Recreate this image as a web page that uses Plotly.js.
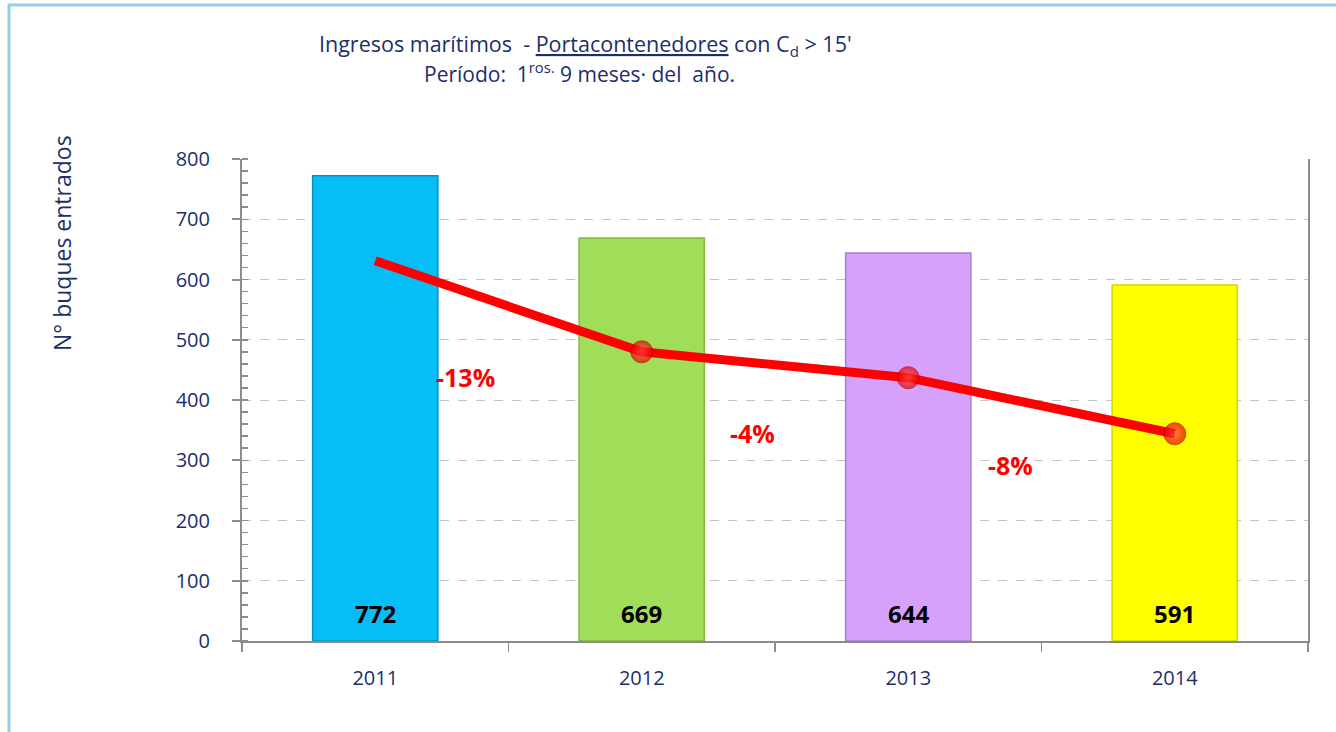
<!DOCTYPE html>
<html>
<head>
<meta charset="utf-8">
<script src="https://cdn.plot.ly/plotly-3.0.1.min.js"></script>
<style>html,body{margin:0;padding:0;background:#fff;}#chart{width:1336px;height:732px;}</style>
</head>
<body>
<div id="chart"></div>
<script>
const years = ['2011', '2012', '2013', '2014'];
const barValues = [772, 669, 644, 591];
const lineValues = [631, 480, 437, 344];
const barColors = ['#06bdf6', '#a0dd58', '#d5a1fa', '#ffff00'];
const barEdgeColors = ['#0a8fbf', '#7fb83c', '#a67fcf', '#d4d400'];

const NAVY = '#1b2f6b';
const FONT = 'Open Sans, Lato, sans-serif';

// plot area in pixels: left 242, right 1308, top 159, bottom 641
const PX = p => (p - 242) / 1066;
const PY = p => (641 - p) / 482;

const pct = barValues.slice(1).map((v, i) => Math.round((v - barValues[i]) / barValues[i] * 100) + '%');
const pctPos = [[0.337, 438], [1.414, 345], [2.382, 292]];

const traces = [
  {
    type: 'bar',
    x: years,
    y: barValues,
    marker: { color: barColors, line: { color: barEdgeColors, width: 1.5 } },
    hoverinfo: 'skip',
    showlegend: false
  },
  {
    type: 'scatter',
    mode: 'lines+markers',
    x: years,
    y: lineValues,
    line: { color: '#ff0000', width: 9 },
    marker: {
      size: [0, 22, 22, 22],
      color: '#e60000',
      gradient: { type: 'radial', color: '#ff4a4a' },
      line: { color: '#b80000', width: 1 }
    },
    hoverinfo: 'skip',
    showlegend: false
  }
];

const annotations = [];
barValues.forEach((v, i) => {
  annotations.push({
    x: i, y: 46, xref: 'x', yref: 'y', text: '<b>' + v + '</b>', showarrow: false,
    xanchor: 'center', yanchor: 'middle',
    font: { family: FONT, size: 24, color: '#000' }
  });
});
pct.forEach((t, i) => {
  annotations.push({
    x: pctPos[i][0], y: pctPos[i][1], xref: 'x', yref: 'y', text: '<b>' + t + '</b>', showarrow: false,
    xanchor: 'center', yanchor: 'middle',
    font: { family: FONT, size: 25, color: '#ff0000' }
  });
});
annotations.push({
  x: PX(585), y: PY(45), xref: 'paper', yref: 'paper', showarrow: false,
  xanchor: 'center', yanchor: 'middle',
  text: 'Ingresos marítimos\u00a0 - <u>Portacontenedores</u> con C<sub>d</sub> &gt; 15\'',
  font: { family: FONT, size: 21.5, color: NAVY }
});
annotations.push({
  x: PX(579), y: PY(73), xref: 'paper', yref: 'paper', showarrow: false,
  xanchor: 'center', yanchor: 'middle',
  text: 'Período:\u00a0 1<sup>ros.</sup> 9 meses· del\u00a0 año.',
  font: { family: FONT, size: 21, color: NAVY }
});
annotations.push({
  x: PX(62), y: PY(243), xref: 'paper', yref: 'paper', showarrow: false, textangle: -90,
  xanchor: 'center', yanchor: 'middle',
  text: 'N° buques entrados',
  font: { family: FONT, size: 23, color: NAVY }
});

const layout = {
  width: 1336, height: 732,
  margin: { l: 242, r: 28, t: 159, b: 91 },
  paper_bgcolor: '#ffffff', plot_bgcolor: '#ffffff',
  font: { family: FONT, color: NAVY },
  bargap: 0.53,
  showlegend: false,
  xaxis: {
    type: 'category',
    range: [-0.5, 3.5], autorange: false,
    showline: true, linecolor: '#8c8c8c', linewidth: 2,
    ticks: 'outside', tickson: 'boundaries', ticklen: 9, tickcolor: '#8c8c8c', tickwidth: 1.5,
    showgrid: false, zeroline: false,
    tickfont: { family: FONT, size: 20, color: NAVY },
    ticklabelstandoff: 18
  },
  yaxis: {
    range: [0, 800], autorange: false, dtick: 100,
    showline: true, linecolor: '#8c8c8c', linewidth: 2, mirror: true,
    ticks: 'outside', ticklen: 8, tickcolor: '#8c8c8c', tickwidth: 2,
    minor: { dtick: 20, ticks: 'inside', ticklen: 6, tickcolor: '#8c8c8c', tickwidth: 1.5, showgrid: false },
    showgrid: true, gridcolor: '#c4c4c4', griddash: 'dash', gridwidth: 1,
    zeroline: false,
    tickfont: { family: FONT, size: 20, color: NAVY },
    ticklabelstandoff: 18
  },
  annotations: annotations,
  shapes: [
    { type: 'line', xref: 'paper', yref: 'paper', x0: PX(9), x1: PX(9), y0: PY(740), y1: PY(4), line: { color: '#93cfdf', width: 3 }, layer: 'below' },
    { type: 'line', xref: 'paper', yref: 'paper', x0: PX(8), x1: PX(1340), y0: PY(5), y1: PY(5), line: { color: '#93cfdf', width: 3 }, layer: 'below' }
  ]
};

Plotly.newPlot('chart', traces, layout, { displayModeBar: false, staticPlot: true });
</script>
</body>
</html>
